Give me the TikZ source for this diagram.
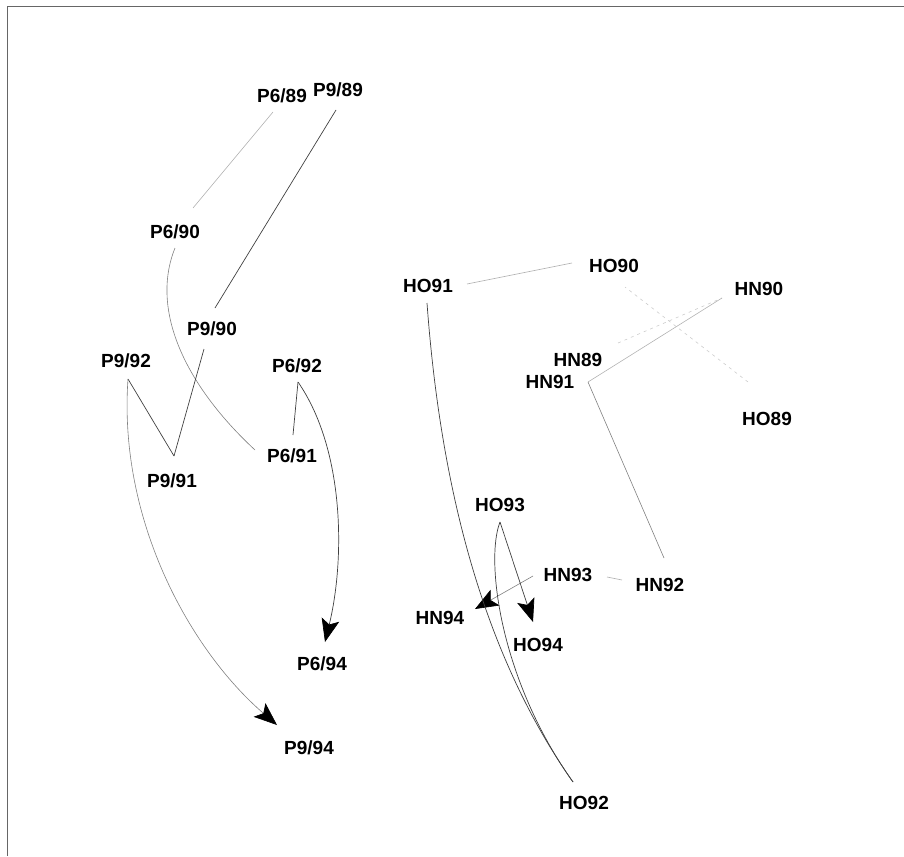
\documentclass[tikz,border=0pt]{standalone}
\usepackage{fontspec}
\setmainfont{Liberation Sans}
\usetikzlibrary{arrows.meta}
\begin{document}
\begin{tikzpicture}[x=1pt,y=-1pt,
  lbl/.style={inner sep=0pt,anchor=center,font=\fontsize{19}{19}\selectfont\bfseries},
  dk/.style={draw=black!75,line width=0.7pt},
  md/.style={draw=black!50,line width=0.6pt},
  lt/.style={draw=black!30,line width=0.6pt},
  vlt/.style={draw=black!20,line width=0.6pt,dash pattern=on 3pt off 4pt},
  arr/.style={-{Stealth[length=23pt,width=18pt,inset=5pt,color=black]}},
  frame/.style={draw=black!60,line width=1pt}]
\useasboundingbox (0,0) rectangle (904,856);
\draw[frame] (7,856) -- (7,7) -- (904,7);
% left group
\node[lbl] (p689) at (282,96) {P6/89};
\node[lbl] (p989) at (338,90) {P9/89};
\node[lbl] (p690) at (175,232) {P6/90};
\node[lbl] (p990) at (212,329) {P9/90};
\node[lbl] (p992) at (126,361) {P9/92};
\node[lbl] (p692) at (297,366) {P6/92};
\node[lbl] (p691) at (292,456) {P6/91};
\node[lbl] (p991) at (172,481) {P9/91};
\node[lbl] (p694) at (322,664) {P6/94};
\node[lbl] (p994) at (309,748) {P9/94};
% right group
\node[lbl] (ho91) at (428,286) {HO91};
\node[lbl] (ho90) at (614,266) {HO90};
\node[lbl] (hn90) at (759,289) {HN90};
\node[lbl] (hn89) at (578,360) {HN89};
\node[lbl] (hn91) at (550,382) {HN91};
\node[lbl] (ho89) at (767,419) {HO89};
\node[lbl] (ho93) at (500,505) {HO93};
\node[lbl] (hn93) at (568,575) {HN93};
\node[lbl] (hn92) at (660,585) {HN92};
\node[lbl] (hn94) at (440,618) {HN94};
\node[lbl] (ho94) at (538,645) {HO94};
\node[lbl] (ho92) at (584,803) {HO92};
% left connectors
\draw[lt] ([xshift=-9pt,yshift=-16pt]p689.center) -- ([xshift=18pt,yshift=24pt]p690.center);
\draw[dk] ([xshift=-2pt,yshift=-20pt]p989.center) -- ([xshift=3pt,yshift=21pt]p990.center);
\draw[md] ([yshift=-16pt]p690.center) .. controls +(-25,62) and +(-70,-65) .. ([xshift=-37pt,yshift=6pt]p691.center);
\draw[dk] ([xshift=-8pt,yshift=-20pt]p990.center) -- ([xshift=2pt,yshift=25pt]p991.center);
\draw[dk] ([xshift=2pt,yshift=25pt]p991.center) -- ([xshift=2pt,yshift=-18pt]p992.center);
\draw[md,arr] ([xshift=2pt,yshift=-18pt]p992.center) .. controls +(-10,141) and +(-87,-75) .. ([xshift=-32pt,yshift=23pt]p994.center);
\draw[dk] ([xshift=1pt,yshift=21pt]p691.center) -- ([xshift=1pt,yshift=-16pt]p692.center);
\draw[dk,arr] ([xshift=1pt,yshift=-16pt]p692.center) .. controls +(47,68) and +(20,-82) .. ([xshift=3pt,yshift=22pt]p694.center);
% right connectors
\draw[lt] ([xshift=-42pt,yshift=3pt]ho90.center) -- ([xshift=39pt,yshift=2pt]ho91.center);
\draw[vlt] ([xshift=-19pt,yshift=37pt]ho89.center) -- ([xshift=11pt,yshift=-21pt]ho90.center);
\draw[vlt] ([xshift=40pt,yshift=17pt]hn89.center) -- ([xshift=-37pt,yshift=-9pt]hn90.center);
\draw[lt] ([xshift=-37pt,yshift=-9pt]hn90.center) -- ([xshift=38pt]hn91.center);
\draw[md] ([xshift=38pt]hn91.center) -- ([xshift=4pt,yshift=27pt]hn92.center);
\draw[lt] ([xshift=-38pt,yshift=5pt]hn92.center) -- ([xshift=39pt,yshift=-2pt]hn93.center);
\draw[md,arr] ([xshift=-35pt,yshift=-1pt]hn93.center) -- ([xshift=35pt,yshift=9pt]hn94.center);
\draw[dk] ([xshift=-1pt,yshift=-17pt]ho91.center) .. controls +(13,177) and +(-93,-132) .. ([xshift=-11pt,yshift=21pt]ho92.center);
\draw[dk] ([xshift=-11pt,yshift=21pt]ho92.center) .. controls +(-73,-102) and +(-15,38) .. ([yshift=-17pt]ho93.center);
\draw[dk,arr] ([yshift=-17pt]ho93.center) -- ([xshift=-5pt,yshift=23pt]ho94.center);
\end{tikzpicture}
\end{document}
